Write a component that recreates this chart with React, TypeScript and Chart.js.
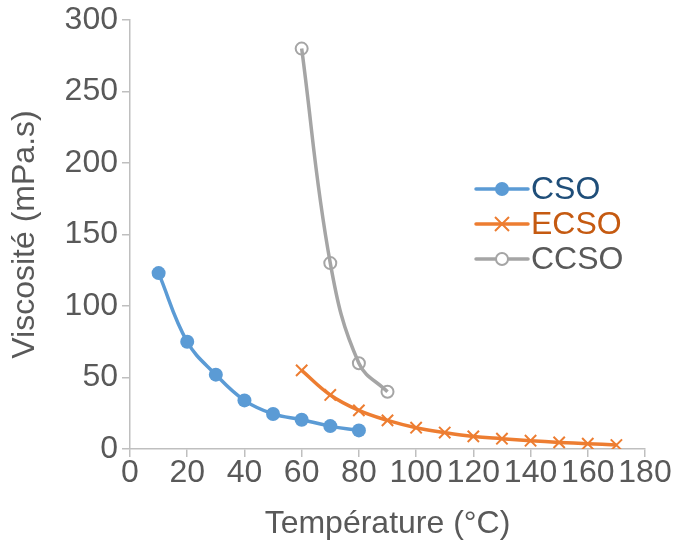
import React, { useEffect, useRef } from "react";
import { Chart, registerables } from "chart.js";

Chart.register(...registerables);

const csoTemps = [10, 20, 30, 40, 50, 60, 70, 80];
const csoVisc = [123, 75, 52, 34, 24.5, 20.5, 16, 13];

const ecsoTemps = [60, 70, 80, 90, 100, 110, 120, 130, 140, 150, 160, 170];
const ecsoVisc = [55, 37.8, 27, 20, 14.9, 11.5, 8.8, 7.2, 5.8, 4.6, 3.7, 2.8];

const ccsoTemps = [60, 70, 80, 90];
const ccsoVisc = [280, 130, 60, 40];

const seriesNames = ["CSO", "ECSO", "CCSO"];
const xTitle = "Température (°C)";
const yTitle = "Viscosité (mPa.s)";

const FONT = "'Liberation Sans', Arial, sans-serif";
const AXIS = "#BFBFBF";
const TEXT = "#595959";

const lineColors = ["#5B9BD5", "#ED7D31", "#A5A5A5"];
const legendTextColors = ["#1F4E79", "#C55A11", "#595959"];

const legendPlugin = {
  id: "insideLegend",
  afterDraw(chart: any) {
    const ctx = chart.ctx;
    const x0 = 476;
    const x1 = 528;
    const rows = [189, 224, 259];
    ctx.save();
    seriesNames.forEach((name, i) => {
      const y = rows[i];
      const c = lineColors[i];
      ctx.strokeStyle = c;
      ctx.lineWidth = 3.5;
      ctx.lineCap = "round";
      ctx.beginPath();
      ctx.moveTo(x0, y);
      ctx.lineTo(x1, y);
      ctx.stroke();
      const mx = (x0 + x1) / 2;
      if (i === 0) {
        ctx.fillStyle = c;
        ctx.beginPath();
        ctx.arc(mx, y, 7, 0, Math.PI * 2);
        ctx.fill();
      } else if (i === 1) {
        ctx.lineWidth = 2;
        ctx.lineCap = "butt";
        const r = 7;
        ctx.beginPath();
        ctx.moveTo(mx - r, y - r);
        ctx.lineTo(mx + r, y + r);
        ctx.moveTo(mx + r, y - r);
        ctx.lineTo(mx - r, y + r);
        ctx.stroke();
      } else {
        ctx.fillStyle = "#FFFFFF";
        ctx.lineWidth = 2;
        ctx.beginPath();
        ctx.arc(mx, y, 6, 0, Math.PI * 2);
        ctx.fill();
        ctx.stroke();
      }
      ctx.fillStyle = legendTextColors[i];
      ctx.font = `32px ${FONT}`;
      ctx.textAlign = "left";
      ctx.textBaseline = "middle";
      ctx.fillText(name, x1 + 3, y + 1);
    });
    ctx.restore();
  },
};

function toPoints(xs: number[], ys: number[]) {
  return xs.map((x, i) => ({ x, y: ys[i] }));
}

export default function App() {
  const ref = useRef<HTMLCanvasElement | null>(null);

  useEffect(() => {
    if (!ref.current) return;
    const chart = new Chart(ref.current, {
      type: "line",
      data: {
        datasets: [
          {
            label: seriesNames[0],
            data: toPoints(csoTemps, csoVisc),
            borderColor: lineColors[0],
            backgroundColor: lineColors[0],
            borderWidth: 3.5,
            pointStyle: "circle",
            pointRadius: 7,
            pointBorderWidth: 0,
            pointBackgroundColor: lineColors[0],
            tension: 0.4,
          },
          {
            label: seriesNames[1],
            data: toPoints(ecsoTemps, ecsoVisc),
            borderColor: lineColors[1],
            backgroundColor: lineColors[1],
            borderWidth: 3.5,
            pointStyle: "crossRot",
            pointRadius: 8,
            pointBorderWidth: 2,
            pointBorderColor: lineColors[1],
            tension: 0.4,
          },
          {
            label: seriesNames[2],
            data: toPoints(ccsoTemps, ccsoVisc),
            borderColor: lineColors[2],
            backgroundColor: "rgba(0,0,0,0)",
            borderWidth: 3.5,
            pointStyle: "circle",
            pointRadius: 6,
            pointBorderWidth: 2,
            pointBorderColor: lineColors[2],
            pointBackgroundColor: "rgba(0,0,0,0)",
            tension: 0.4,
          },
        ],
      },
      options: {
        responsive: false,
        animation: false,
        layout: { padding: { top: 20, right: 29, left: 0, bottom: 0 } },
        plugins: {
          legend: { display: false },
          tooltip: { enabled: false },
        },
        scales: {
          x: {
            type: "linear",
            min: 0,
            max: 180,
            ticks: {
              stepSize: 20,
              color: TEXT,
              padding: 0,
              maxRotation: 0,
              autoSkip: false,
              font: { family: FONT, size: 32, lineHeight: 1 },
            },
            grid: {
              display: true,
              drawOnChartArea: false,
              drawTicks: true,
              tickLength: 8,
              color: AXIS,
              lineWidth: 1.5,
            },
            border: { display: true, color: AXIS, width: 1.5 },
            title: {
              display: true,
              text: xTitle,
              color: TEXT,
              font: { family: FONT, size: 32, lineHeight: 1.2 },
              padding: { top: 0, bottom: 10 },
            },
            afterFit(scale: any) {
              scale.height = 104;
              scale.paddingLeft = 0;
              scale.paddingRight = 0;
            },
          },
          y: {
            type: "linear",
            min: 0,
            max: 300,
            ticks: {
              stepSize: 50,
              color: TEXT,
              padding: 4,
              font: { family: FONT, size: 32 },
            },
            grid: {
              display: true,
              drawOnChartArea: false,
              drawTicks: true,
              tickLength: 8,
              color: AXIS,
              lineWidth: 1.5,
            },
            border: { display: true, color: AXIS, width: 1.5 },
            title: {
              display: true,
              text: yTitle,
              color: TEXT,
              font: { family: FONT, size: 32, lineHeight: 1.2 },
              padding: { top: 6, bottom: 4 },
            },
            afterFit(scale: any) {
              scale.width = 130;
              scale.paddingTop = 0;
              scale.paddingBottom = 0;
            },
          },
        },
      },
      plugins: [legendPlugin],
    });
    return () => chart.destroy();
  }, []);

  return (
    <div style={{ position: "fixed", left: 0, top: 0, width: 674, height: 553, background: "#fff" }}>
      <canvas ref={ref} width={674} height={553} style={{ display: "block" }} />
    </div>
  );
}
